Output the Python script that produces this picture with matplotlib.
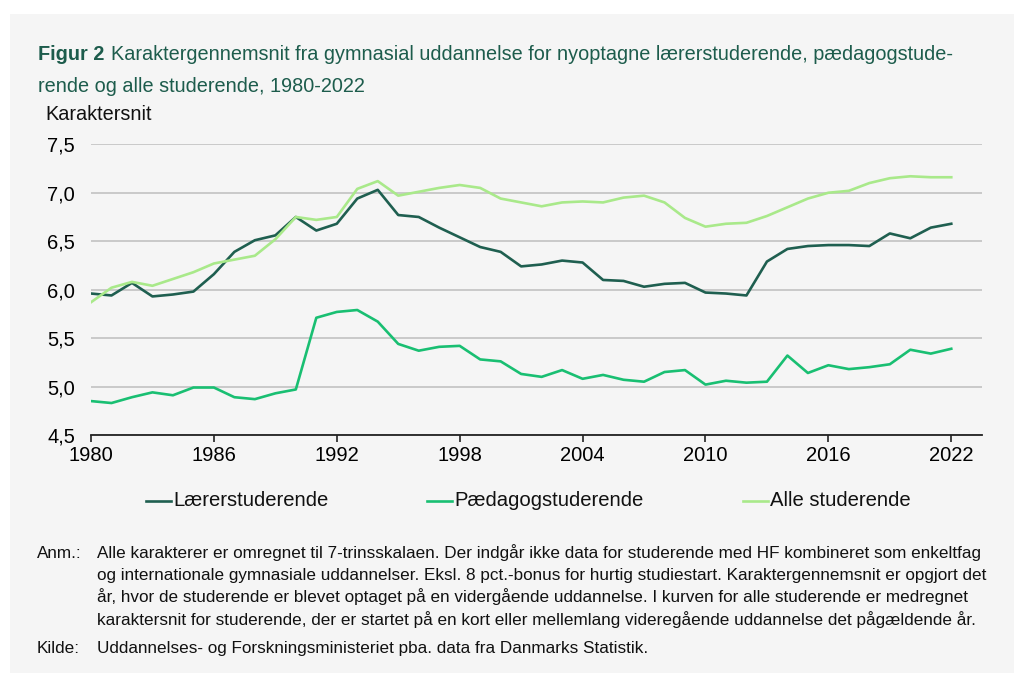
import numpy as np
import matplotlib.pyplot as plt
from matplotlib.lines import Line2D
from matplotlib.patches import Rectangle
from matplotlib.ticker import FuncFormatter

plt.rcParams['font.family'] = ['Liberation Sans', 'DejaVu Sans']

# data
years = list(range(1980, 2023))
laerer = [5.96, 5.94, 6.07, 5.93, 5.95, 5.98, 6.16, 6.39, 6.51, 6.56,
          6.75, 6.61, 6.68, 6.94, 7.03, 6.77, 6.75, 6.64, 6.54, 6.44,
          6.39, 6.24, 6.26, 6.30, 6.28, 6.10, 6.09, 6.03, 6.06, 6.07,
          5.97, 5.96, 5.94, 6.29, 6.42, 6.45, 6.46, 6.46, 6.45, 6.58,
          6.53, 6.64, 6.68]
paedagog = [4.85, 4.83, 4.89, 4.94, 4.91, 4.99, 4.99, 4.89, 4.87, 4.93,
            4.97, 5.71, 5.77, 5.79, 5.67, 5.44, 5.37, 5.41, 5.42, 5.28,
            5.26, 5.13, 5.10, 5.17, 5.08, 5.12, 5.07, 5.05, 5.15, 5.17,
            5.02, 5.06, 5.04, 5.05, 5.32, 5.14, 5.22, 5.18, 5.20, 5.23,
            5.38, 5.34, 5.39]
alle = [5.87, 6.02, 6.08, 6.04, 6.11, 6.18, 6.27, 6.31, 6.35, 6.52,
        6.75, 6.72, 6.75, 7.04, 7.12, 6.97, 7.01, 7.05, 7.08, 7.05,
        6.94, 6.90, 6.86, 6.90, 6.91, 6.90, 6.95, 6.97, 6.90, 6.74,
        6.65, 6.68, 6.69, 6.76, 6.85, 6.94, 7.00, 7.02, 7.10, 7.15,
        7.17, 7.16, 7.16]
series_names = ['Lærerstuderende', 'Pædagogstuderende', 'Alle studerende']
xticks = list(range(1980, 2023, 6))
yticks = [4.5, 5.0, 5.5, 6.0, 6.5, 7.0, 7.5]

colors = ['#1f5f50', '#19bf72', '#a9e98a']
bg = '#f5f5f5'
title_green = '#1d5c4c'

W, H = 1014, 673
fig = plt.figure(figsize=(W / 100, H / 100), dpi=100, facecolor='white')


def fx(px):
    return px / W


def fy(py):
    return 1 - py / H


# grey panel
fig.patches.append(Rectangle((fx(10), 0), 1 - fx(10), fy(14),
                             transform=fig.transFigure, facecolor=bg,
                             edgecolor='none', zorder=-5))

ax = fig.add_axes([fx(91), fy(435), 891 / W, (435 - 144.3) / H])
ax.set_facecolor(bg)

for vals, c, n in zip([laerer, paedagog, alle], colors, series_names):
    ax.plot(years, vals, color=c, lw=1.9, label=n, zorder=3)

ax.set_xlim(1980, 2023.5)
ax.set_ylim(4.5, 7.5)
ax.set_xticks(xticks)
ax.set_yticks(yticks)
ax.yaxis.set_major_formatter(FuncFormatter(lambda v, p: f'{v:.1f}'.replace('.', ',')))
ax.grid(axis='y', color='#c6c6c6', lw=1.3, zorder=1)
for s in ['top', 'right', 'left']:
    ax.spines[s].set_visible(False)
ax.spines['bottom'].set_color('#222222')
ax.spines['bottom'].set_linewidth(1.3)
ax.spines['bottom'].set_zorder(4)
ax.tick_params(axis='x', direction='out', length=5, width=1.2, color='#222222',
               labelsize=14.5, pad=3)
ax.tick_params(axis='y', length=0, labelsize=14.5, pad=11.5)

# title
tfs = 14.3
fig.text(fx(38), fy(60), 'Figur 2', fontsize=tfs, fontweight='bold',
         color=title_green, va='baseline', ha='left')
fig.text(fx(111), fy(60),
         'Karaktergennemsnit fra gymnasial uddannelse for nyoptagne lærerstuderende, pædagogstude-',
         fontsize=tfs, color=title_green, va='baseline', ha='left')
fig.text(fx(38), fy(92), 'rende og alle studerende, 1980-2022',
         fontsize=tfs, color=title_green, va='baseline', ha='left')
fig.text(fx(45), fy(120), 'Karaktersnit', fontsize=tfs, color='#111111',
         va='baseline', ha='left')

# legend, drawn entry by entry to keep the uneven spacing of the original
leg_x = [146, 427, 743]
for x0, c, n in zip(leg_x, colors, series_names):
    fig.add_artist(Line2D([fx(x0), fx(x0 + 25)], [fy(501), fy(501)],
                          transform=fig.transFigure, color=c, lw=1.9))
    fig.text(fx(x0 + 27), fy(501), n, fontsize=14.6, color='#111111',
             va='center', ha='left')

# notes
nfs = 12.35
notes = [
    'Alle karakterer er omregnet til 7-trinsskalaen. Der indgår ikke data for studerende med HF kombineret som enkeltfag',
    'og internationale gymnasiale uddannelser. Eksl. 8 pct.-bonus for hurtig studiestart. Karaktergennemsnit er opgjort det',
    'år, hvor de studerende er blevet optaget på en vidergående uddannelse. I kurven for alle studerende er medregnet',
    'karaktersnit for studerende, der er startet på en kort eller mellemlang videregående uddannelse det pågældende år.',
]
y0 = 558
for i, line in enumerate(notes):
    fig.text(fx(97), fy(y0 + i * 22.2), line, fontsize=nfs,
             color='#111111', va='baseline', ha='left')
fig.text(fx(37), fy(y0), 'Anm.:', fontsize=nfs, color='#111111',
         va='baseline', ha='left')
fig.text(fx(37), fy(653), 'Kilde:', fontsize=nfs, color='#111111',
         va='baseline', ha='left')
fig.text(fx(97), fy(653),
         'Uddannelses- og Forskningsministeriet pba. data fra Danmarks Statistik.',
         fontsize=nfs, color='#111111', va='baseline', ha='left')

fig.savefig('out.png', dpi=100, facecolor='white')
